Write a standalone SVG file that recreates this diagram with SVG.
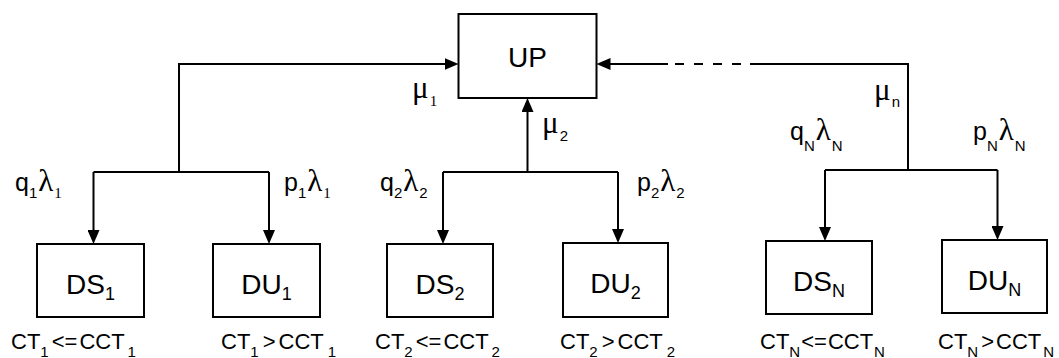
<svg xmlns="http://www.w3.org/2000/svg" width="1059" height="358" viewBox="0 0 1059 358">
<style>
.box{fill:#fff;stroke:#000;stroke-width:2}
.ln{fill:none;stroke:#000;stroke-width:2}
.s{font-family:"Liberation Sans",Arial,sans-serif;fill:#000}
.g{font-family:"Liberation Serif","Times New Roman",serif;fill:#000}
.nd{font-size:28px}
.ndsub{font-size:18px}
.lb{font-size:25px}
.gk{font-size:31px}
.sb{font-size:15px}
.ct{font-size:22px}
</style>
<defs>
<marker id="arr" markerWidth="14" markerHeight="12" refX="6" refY="6" orient="auto" markerUnits="userSpaceOnUse">
<path d="M0,0 L14,6 L0,12 z" fill="#000"/>
</marker>
</defs>
<rect width="1059" height="358" fill="#fff"/>
<g id="connectors">
<path class="ln" d="M93.5,172 H269"/>
<path class="ln" d="M179,172 V64 H450.5" marker-end="url(#arr)"/>
<path class="ln" d="M93.5,172 V236" marker-end="url(#arr)"/>
<path class="ln" d="M269,172 V236" marker-end="url(#arr)"/>
<path class="ln" d="M443,172 H618"/>
<path class="ln" d="M527.5,172 V106" marker-end="url(#arr)"/>
<path class="ln" d="M443,172 V236" marker-end="url(#arr)"/>
<path class="ln" d="M618,172 V235" marker-end="url(#arr)"/>
<path class="ln" d="M825,170 H997.5"/>
<path class="ln" d="M825,170 V233" marker-end="url(#arr)"/>
<path class="ln" d="M997.5,170 V232" marker-end="url(#arr)"/>
<path class="ln" d="M908,170 V64 H750"/>
<path class="ln" d="M741,64 H732 M722,64 H713 M703,64 H694 M684,64 H675"/>
<path class="ln" d="M668,64 H604.5" marker-end="url(#arr)"/>
</g>
<g id="UP">
<rect class="box" x="458.5" y="14" width="138" height="84"/>
<text class="s nd" x="527.5" y="67" text-anchor="middle">UP</text>
</g>
<g id="DS1">
<rect class="box" x="37" y="244" width="107" height="73"/>
<text class="s nd" x="90.5" y="294" text-anchor="middle">DS<tspan class="ndsub" dy="6">1</tspan></text>
</g>
<g id="DU1">
<rect class="box" x="213" y="244" width="107" height="73"/>
<text class="s nd" x="266.5" y="294" text-anchor="middle">DU<tspan class="ndsub" dy="6">1</tspan></text>
</g>
<g id="DS2">
<rect class="box" x="387" y="244" width="106" height="73"/>
<text class="s nd" x="440" y="294" text-anchor="middle">DS<tspan class="ndsub" dy="6">2</tspan></text>
</g>
<g id="DU2">
<rect class="box" x="563" y="243" width="105" height="74"/>
<text class="s nd" x="615.5" y="293" text-anchor="middle">DU<tspan class="ndsub" dy="6">2</tspan></text>
</g>
<g id="DSN">
<rect class="box" x="766" y="241" width="106" height="73"/>
<text class="s nd" x="819" y="291" text-anchor="middle">DS<tspan class="ndsub" dy="6">N</tspan></text>
</g>
<g id="DUN">
<rect class="box" x="942" y="240" width="105" height="73"/>
<text class="s nd" x="994.5" y="290" text-anchor="middle">DU<tspan class="ndsub" dy="6">N</tspan></text>
</g>
<g id="labels">
<text x="15" y="191"><tspan class="s lb">q</tspan><tspan class="s sb" dy="7">1</tspan><tspan class="g gk" dy="-7" dx="1">λ</tspan><tspan class="g sb" dy="7" dx="1">1</tspan></text>
<text x="284" y="191"><tspan class="s lb">p</tspan><tspan class="s sb" dy="7">1</tspan><tspan class="g gk" dy="-7" dx="1">λ</tspan><tspan class="g sb" dy="7" dx="1">1</tspan></text>
<text x="380" y="191"><tspan class="s lb">q</tspan><tspan class="s sb" dy="7">2</tspan><tspan class="g gk" dy="-7" dx="1">λ</tspan><tspan class="s sb" dy="7" dx="1">2</tspan></text>
<text x="637" y="191"><tspan class="s lb">p</tspan><tspan class="s sb" dy="7">2</tspan><tspan class="g gk" dy="-7" dx="1">λ</tspan><tspan class="s sb" dy="7" dx="1">2</tspan></text>
<text x="790" y="140"><tspan class="s lb">q</tspan><tspan class="s sb" dy="11">N</tspan><tspan class="g gk" dy="-11" dx="1">λ</tspan><tspan class="s sb" dy="11" dx="1">N</tspan></text>
<text x="973" y="140"><tspan class="s lb">p</tspan><tspan class="s sb" dy="11">N</tspan><tspan class="g gk" dy="-11" dx="1">λ</tspan><tspan class="s sb" dy="11" dx="1">N</tspan></text>
<text x="412" y="98"><tspan class="g gk">μ</tspan><tspan class="g sb" dy="8" dx="1">1</tspan></text>
<text x="542" y="133"><tspan class="g gk">μ</tspan><tspan class="s sb" dy="8" dx="1">2</tspan></text>
<text x="874" y="100"><tspan class="g gk">μ</tspan><tspan class="s sb" dy="7" dx="1">n</tspan></text>
<text x="11" y="349"><tspan class="s ct">CT</tspan><tspan class="s sb" dy="8">1</tspan><tspan class="s ct" dy="-8" dx="3">&lt;=</tspan><tspan class="s ct" dx="2">CCT</tspan><tspan class="s sb" dy="8" dx="3">1</tspan></text>
<text x="221" y="349"><tspan class="s ct">CT</tspan><tspan class="s sb" dy="8">1</tspan><tspan class="s ct" dy="-8" dx="4">&gt;</tspan><tspan class="s ct" dx="3">CCT</tspan><tspan class="s sb" dy="8" dx="4">1</tspan></text>
<text x="375" y="349"><tspan class="s ct">CT</tspan><tspan class="s sb" dy="8">2</tspan><tspan class="s ct" dy="-8" dx="3">&lt;=</tspan><tspan class="s ct" dx="2">CCT</tspan><tspan class="s sb" dy="8" dx="3">2</tspan></text>
<text x="560" y="349"><tspan class="s ct">CT</tspan><tspan class="s sb" dy="8">2</tspan><tspan class="s ct" dy="-8" dx="4">&gt;</tspan><tspan class="s ct" dx="3">CCT</tspan><tspan class="s sb" dy="8" dx="4">2</tspan></text>
<text x="760" y="349"><tspan class="s ct">CT</tspan><tspan class="s sb" dy="8">N</tspan><tspan class="s ct" dy="-8" dx="1">&lt;=</tspan><tspan class="s ct" dx="1">CCT</tspan><tspan class="s sb" dy="8" dx="1">N</tspan></text>
<text x="938" y="349"><tspan class="s ct">CT</tspan><tspan class="s sb" dy="8">N</tspan><tspan class="s ct" dy="-8" dx="3">&gt;</tspan><tspan class="s ct" dx="2">CCT</tspan><tspan class="s sb" dy="8" dx="2">N</tspan></text>
</g>
</svg>
